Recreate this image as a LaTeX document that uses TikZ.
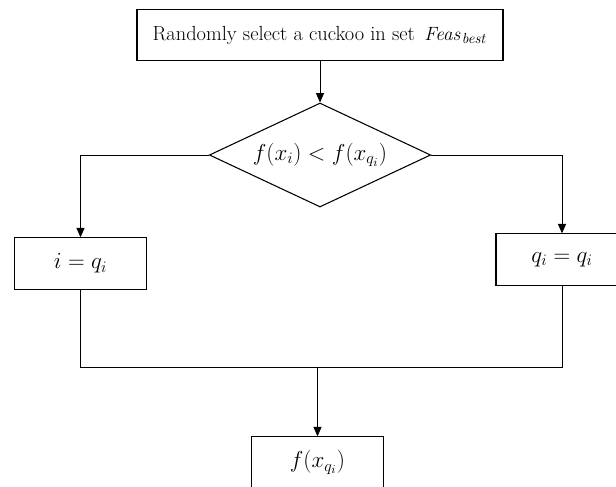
\documentclass[tikz,border=0pt]{standalone}
\usepackage{amsmath}
\usetikzlibrary{shapes,arrows.meta,positioning,calc}

\begin{document}
\begin{tikzpicture}[x=0.75pt, y=-0.75pt,
    procbox/.style={draw, line width=0.8pt, inner sep=0pt, minimum height=38.5pt},
    decision/.style={draw, diamond, aspect=2.1, line width=0.8pt, inner sep=0pt, minimum width=166pt, minimum height=78pt},
    flow/.style={-{Triangle[length=7pt,width=6pt]}, line width=0.6pt}]
    \useasboundingbox (0,0) rectangle (616,486);

    \node[procbox, minimum width=274.5pt, font=\fontsize{15.3}{18}\selectfont] (pick) at (320,35) {Randomly select a cuckoo in set \,$\mathit{Feas}_{\mathit{best}}$};
    \node[decision, font=\fontsize{18}{21}\selectfont] (cond) at (320,155) {$f(x_i) < f(x_{q_i})$};
    \node[procbox, minimum width=98.5pt, font=\fontsize{18}{21}\selectfont] (keep) at (80.5,263.5) {$i = q_i$};
    \node[procbox, minimum width=99pt, font=\fontsize{18}{21}\selectfont] (swap) at (562,259.5) {$q_i = q_i$};
    \node[procbox, minimum width=98.5pt, font=\fontsize{18}{21}\selectfont] (result) at (317.5,462.5) {$f(x_{q_i})$};
    \coordinate (join) at (317.5,367);

    \draw[flow] (pick) -- (cond);
    \draw[flow] (cond.west) -| (keep.north);
    \draw[flow] (cond.east) -| (swap.north);
    \draw[line width=0.6pt] (keep.south) |- (join) -| (swap.south);
    \draw[flow] (join) -- (result);
\end{tikzpicture}
\end{document}
